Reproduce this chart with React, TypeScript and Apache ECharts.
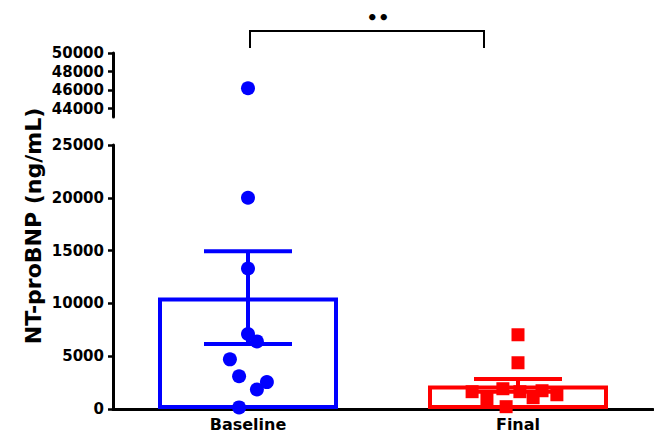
import React, { useEffect, useRef } from "react";
import * as echarts from "echarts";

const categories = ["Baseline", "Final"];
const barMeans = [10550, 2235];
const barSem = [4400, 605];
const baselineValues = [46200, 20000, 13300, 7100, 6400, 4700, 3100, 2550, 1850, 150];
const baselineJitter = [0, 0, 0, 0, 0.033, -0.067, -0.033, 0.07, 0.033, -0.033];
const finalValues = [7030, 4380, 1640, 970, 1920, 1640, 1070, 1730, 1350, 220];
const finalJitter = [0, 0, -0.17, -0.115, -0.056, 0.007, 0.056, 0.089, 0.144, -0.044];
const lowerTicks = [0, 5000, 10000, 15000, 20000, 25000];
const upperTicks = [44000, 46000, 48000, 50000];
const breakLow = 25000;
const breakHigh = 43100;
const upperMax = 50000;
const yTitle = "NT-proBNP (ng/mL)";
const sigLabel = "••";

const BLUE = "#0000ff";
const RED = "#ff0000";
const colors = [BLUE, RED];
const FONT = "DejaVu Sans";

export default function App() {
  const ref = useRef<HTMLDivElement>(null);
  useEffect(() => {
    document.body.style.margin = "0";
    const chart = echarts.init(ref.current!, null, { renderer: "svg" });
    const toPts = (vals: number[], jit: number[], idx: number, upper: boolean) =>
      vals
        .map((v, i) => [idx + 0.5 + jit[i], v])
        .filter((p) => (upper ? p[1] > breakLow : p[1] <= breakLow));
    const axisLabelStyle = {
      color: "#000",
      fontFamily: FONT,
      fontWeight: "bold" as const,
      fontSize: 15,
      margin: 9,
      formatter: (v: number) => String(v),
    };
    const option: any = {
      animation: false,
      grid: [
        { left: 113, right: 1, top: 53, height: 64 },
        { left: 113, right: 1, top: 145, height: 264 },
      ],
      xAxis: [
        {
          type: "category",
          gridIndex: 1,
          data: categories,
          axisLine: { lineStyle: { color: "#000", width: 3 } },
          axisTick: { alignWithLabel: true, length: 4, lineStyle: { color: "#000", width: 2.5 } },
          axisLabel: { color: "#000", fontFamily: FONT, fontWeight: "bold", fontSize: 16, margin: 7 },
          splitLine: { show: false },
        },
        { type: "value", gridIndex: 1, min: 0, max: 2, show: false },
        { type: "value", gridIndex: 0, min: 0, max: 2, show: false },
      ],
      yAxis: [
        {
          type: "value",
          gridIndex: 0,
          min: breakHigh,
          max: upperMax,
          axisLine: { show: true, lineStyle: { color: "#000", width: 3 } },
          axisTick: { show: true, length: 5, customValues: upperTicks, lineStyle: { color: "#000", width: 2.5 } },
          axisLabel: { ...axisLabelStyle, customValues: upperTicks },
          splitLine: { show: false },
        },
        {
          type: "value",
          gridIndex: 1,
          min: 0,
          max: breakLow,
          interval: 5000,
          axisLine: { show: true, lineStyle: { color: "#000", width: 3 } },
          axisTick: { show: true, length: 5, customValues: lowerTicks, lineStyle: { color: "#000", width: 2.5 } },
          axisLabel: { ...axisLabelStyle, customValues: lowerTicks },
          splitLine: { show: false },
        },
      ],
      series: [
        {
          type: "bar",
          xAxisIndex: 0,
          yAxisIndex: 1,
          barWidth: 180,
          z: 2,
          data: barMeans.map((v, i) => ({
            value: v,
            itemStyle: { color: "#fff", borderColor: colors[i], borderWidth: 4 },
          })),
        },
        {
          type: "custom",
          xAxisIndex: 0,
          yAxisIndex: 1,
          z: 3,
          data: barMeans.map((m, i) => [i, m - barSem[i], m + barSem[i]]),
          renderItem: (params: any, api: any) => {
            const idx = api.value(0);
            const lo = api.coord([idx, api.value(1)]);
            const hi = api.coord([idx, api.value(2)]);
            const hw = 44;
            const st = { stroke: colors[params.dataIndex], lineWidth: 4 };
            return {
              type: "group",
              children: [
                { type: "line", shape: { x1: hi[0], y1: hi[1], x2: lo[0], y2: lo[1] }, style: st },
                { type: "line", shape: { x1: hi[0] - hw, y1: hi[1], x2: hi[0] + hw, y2: hi[1] }, style: st },
                { type: "line", shape: { x1: lo[0] - hw, y1: lo[1], x2: lo[0] + hw, y2: lo[1] }, style: st },
              ],
            };
          },
        },
        {
          type: "scatter",
          xAxisIndex: 1,
          yAxisIndex: 1,
          z: 4,
          symbol: "circle",
          symbolSize: 14,
          itemStyle: { color: BLUE, opacity: 1 },
          data: toPts(baselineValues, baselineJitter, 0, false),
        },
        {
          type: "scatter",
          xAxisIndex: 2,
          yAxisIndex: 0,
          z: 4,
          symbol: "circle",
          symbolSize: 14,
          itemStyle: { color: BLUE, opacity: 1 },
          data: toPts(baselineValues, baselineJitter, 0, true),
        },
        {
          type: "scatter",
          xAxisIndex: 1,
          yAxisIndex: 1,
          z: 4,
          symbol: "rect",
          symbolSize: 13,
          itemStyle: { color: RED, opacity: 1 },
          data: toPts(finalValues, finalJitter, 1, false),
        },
      ],
      graphic: [
        {
          type: "text",
          x: 33,
          y: 226,
          rotation: Math.PI / 2,
          style: {
            text: yTitle,
            fill: "#000",
            font: `bold 22px "${FONT}"`,
            align: "center",
            verticalAlign: "middle",
          },
        },
        {
          type: "polyline",
          shape: { points: [[250, 48], [250, 31], [484, 31], [484, 48]] },
          style: { stroke: "#000", lineWidth: 2, fill: "none" },
        },
        {
          type: "text",
          x: 378,
          y: 17,
          style: {
            text: sigLabel,
            fill: "#000",
            font: `bold 18px "${FONT}"`,
            align: "center",
            verticalAlign: "middle",
          },
        },
      ],
    };
    chart.setOption(option);
    return () => chart.dispose();
  }, []);
  return (
    <div
      ref={ref}
      style={{ position: "absolute", left: 0, top: 0, width: 654, height: 439, background: "#fff" }}
    />
  );
}
